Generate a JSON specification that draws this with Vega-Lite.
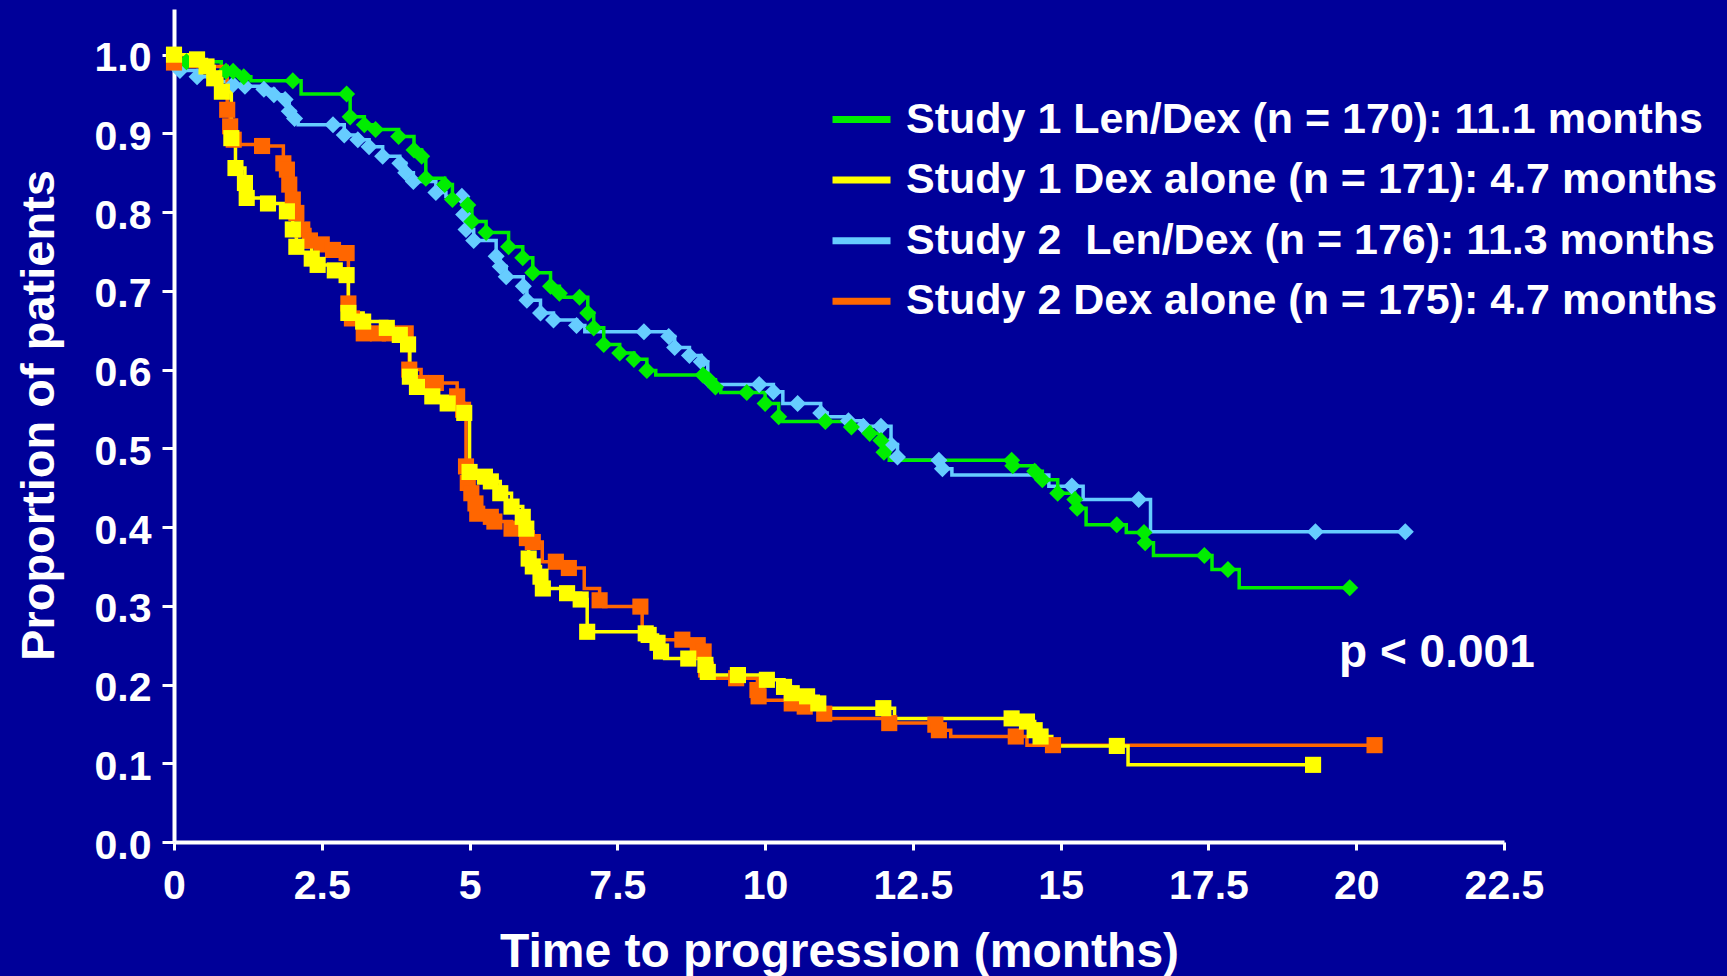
{
"$schema": "https://vega.github.io/schema/vega-lite/v6.json",
"width": 1330,
"height": 833,
"autosize": {"type": "none"},
"padding": {"left": 174, "top": 9, "right": 223, "bottom": 134},
"background": "#000099",
"config": {"view": {"stroke": null}, "font": "Liberation Sans"},
"datasets": {
"km": [
{"series":"S2 Len/Dex","t":0,"s":1.0,"m":0},
{"series":"S2 Len/Dex","t":0.05,"s":0.985,"m":0},
{"series":"S2 Len/Dex","t":0.10,"s":0.980,"m":1},
{"series":"S2 Len/Dex","t":0.39,"s":0.972,"m":1},
{"series":"S2 Len/Dex","t":0.60,"s":0.966,"m":0},
{"series":"S2 Len/Dex","t":1.00,"s":0.962,"m":1},
{"series":"S2 Len/Dex","t":1.20,"s":0.960,"m":1},
{"series":"S2 Len/Dex","t":1.52,"s":0.956,"m":1},
{"series":"S2 Len/Dex","t":1.69,"s":0.949,"m":1},
{"series":"S2 Len/Dex","t":1.88,"s":0.943,"m":1},
{"series":"S2 Len/Dex","t":1.95,"s":0.928,"m":1},
{"series":"S2 Len/Dex","t":2.04,"s":0.919,"m":1},
{"series":"S2 Len/Dex","t":2.10,"s":0.911,"m":0},
{"series":"S2 Len/Dex","t":2.69,"s":0.911,"m":1},
{"series":"S2 Len/Dex","t":2.88,"s":0.898,"m":1},
{"series":"S2 Len/Dex","t":3.11,"s":0.892,"m":1},
{"series":"S2 Len/Dex","t":3.30,"s":0.883,"m":1},
{"series":"S2 Len/Dex","t":3.53,"s":0.871,"m":1},
{"series":"S2 Len/Dex","t":3.82,"s":0.862,"m":1},
{"series":"S2 Len/Dex","t":3.92,"s":0.850,"m":1},
{"series":"S2 Len/Dex","t":4.05,"s":0.839,"m":1},
{"series":"S2 Len/Dex","t":4.43,"s":0.825,"m":1},
{"series":"S2 Len/Dex","t":4.60,"s":0.820,"m":0},
{"series":"S2 Len/Dex","t":4.87,"s":0.820,"m":1},
{"series":"S2 Len/Dex","t":4.90,"s":0.797,"m":1},
{"series":"S2 Len/Dex","t":4.94,"s":0.778,"m":1},
{"series":"S2 Len/Dex","t":5.07,"s":0.764,"m":1},
{"series":"S2 Len/Dex","t":5.45,"s":0.744,"m":1},
{"series":"S2 Len/Dex","t":5.52,"s":0.731,"m":1},
{"series":"S2 Len/Dex","t":5.62,"s":0.718,"m":1},
{"series":"S2 Len/Dex","t":5.91,"s":0.706,"m":1},
{"series":"S2 Len/Dex","t":5.97,"s":0.688,"m":1},
{"series":"S2 Len/Dex","t":6.20,"s":0.672,"m":1},
{"series":"S2 Len/Dex","t":6.42,"s":0.663,"m":1},
{"series":"S2 Len/Dex","t":6.81,"s":0.656,"m":1},
{"series":"S2 Len/Dex","t":6.95,"s":0.648,"m":0},
{"series":"S2 Len/Dex","t":7.95,"s":0.648,"m":1},
{"series":"S2 Len/Dex","t":8.37,"s":0.642,"m":1},
{"series":"S2 Len/Dex","t":8.47,"s":0.628,"m":1},
{"series":"S2 Len/Dex","t":8.72,"s":0.618,"m":1},
{"series":"S2 Len/Dex","t":8.92,"s":0.610,"m":1},
{"series":"S2 Len/Dex","t":9.03,"s":0.588,"m":1},
{"series":"S2 Len/Dex","t":9.10,"s":0.581,"m":0},
{"series":"S2 Len/Dex","t":9.90,"s":0.581,"m":1},
{"series":"S2 Len/Dex","t":10.14,"s":0.572,"m":1},
{"series":"S2 Len/Dex","t":10.30,"s":0.557,"m":0},
{"series":"S2 Len/Dex","t":10.55,"s":0.557,"m":1},
{"series":"S2 Len/Dex","t":10.94,"s":0.545,"m":1},
{"series":"S2 Len/Dex","t":11.05,"s":0.540,"m":0},
{"series":"S2 Len/Dex","t":11.41,"s":0.535,"m":1},
{"series":"S2 Len/Dex","t":11.66,"s":0.528,"m":1},
{"series":"S2 Len/Dex","t":11.96,"s":0.528,"m":1},
{"series":"S2 Len/Dex","t":12.13,"s":0.505,"m":1},
{"series":"S2 Len/Dex","t":12.24,"s":0.489,"m":1},
{"series":"S2 Len/Dex","t":12.30,"s":0.485,"m":0},
{"series":"S2 Len/Dex","t":12.94,"s":0.485,"m":1},
{"series":"S2 Len/Dex","t":13.00,"s":0.474,"m":1},
{"series":"S2 Len/Dex","t":13.16,"s":0.466,"m":0},
{"series":"S2 Len/Dex","t":14.80,"s":0.452,"m":0},
{"series":"S2 Len/Dex","t":15.19,"s":0.452,"m":1},
{"series":"S2 Len/Dex","t":15.38,"s":0.435,"m":0},
{"series":"S2 Len/Dex","t":16.32,"s":0.435,"m":1},
{"series":"S2 Len/Dex","t":16.52,"s":0.394,"m":0},
{"series":"S2 Len/Dex","t":19.31,"s":0.394,"m":1},
{"series":"S2 Len/Dex","t":20.83,"s":0.394,"m":1},
{"series":"S1 Len/Dex","t":0,"s":1.0,"m":0},
{"series":"S1 Len/Dex","t":0.10,"s":0.991,"m":0},
{"series":"S1 Len/Dex","t":0.21,"s":0.991,"m":1},
{"series":"S1 Len/Dex","t":0.80,"s":0.979,"m":0},
{"series":"S1 Len/Dex","t":0.88,"s":0.979,"m":1},
{"series":"S1 Len/Dex","t":1.00,"s":0.979,"m":1},
{"series":"S1 Len/Dex","t":1.10,"s":0.972,"m":0},
{"series":"S1 Len/Dex","t":1.18,"s":0.972,"m":1},
{"series":"S1 Len/Dex","t":1.30,"s":0.967,"m":0},
{"series":"S1 Len/Dex","t":2.01,"s":0.967,"m":1},
{"series":"S1 Len/Dex","t":2.15,"s":0.950,"m":0},
{"series":"S1 Len/Dex","t":2.92,"s":0.950,"m":1},
{"series":"S1 Len/Dex","t":2.98,"s":0.921,"m":1},
{"series":"S1 Len/Dex","t":3.22,"s":0.911,"m":1},
{"series":"S1 Len/Dex","t":3.41,"s":0.905,"m":1},
{"series":"S1 Len/Dex","t":3.80,"s":0.896,"m":1},
{"series":"S1 Len/Dex","t":4.06,"s":0.879,"m":1},
{"series":"S1 Len/Dex","t":4.19,"s":0.871,"m":1},
{"series":"S1 Len/Dex","t":4.26,"s":0.843,"m":1},
{"series":"S1 Len/Dex","t":4.58,"s":0.835,"m":1},
{"series":"S1 Len/Dex","t":4.71,"s":0.816,"m":1},
{"series":"S1 Len/Dex","t":4.97,"s":0.809,"m":1},
{"series":"S1 Len/Dex","t":5.04,"s":0.788,"m":1},
{"series":"S1 Len/Dex","t":5.28,"s":0.774,"m":1},
{"series":"S1 Len/Dex","t":5.66,"s":0.756,"m":1},
{"series":"S1 Len/Dex","t":5.90,"s":0.742,"m":1},
{"series":"S1 Len/Dex","t":6.07,"s":0.723,"m":1},
{"series":"S1 Len/Dex","t":6.37,"s":0.706,"m":1},
{"series":"S1 Len/Dex","t":6.52,"s":0.697,"m":1},
{"series":"S1 Len/Dex","t":6.60,"s":0.692,"m":0},
{"series":"S1 Len/Dex","t":6.86,"s":0.692,"m":1},
{"series":"S1 Len/Dex","t":7.00,"s":0.672,"m":1},
{"series":"S1 Len/Dex","t":7.10,"s":0.653,"m":1},
{"series":"S1 Len/Dex","t":7.27,"s":0.632,"m":1},
{"series":"S1 Len/Dex","t":7.54,"s":0.621,"m":1},
{"series":"S1 Len/Dex","t":7.78,"s":0.613,"m":1},
{"series":"S1 Len/Dex","t":8.00,"s":0.599,"m":1},
{"series":"S1 Len/Dex","t":8.15,"s":0.593,"m":0},
{"series":"S1 Len/Dex","t":8.95,"s":0.593,"m":1},
{"series":"S1 Len/Dex","t":9.05,"s":0.587,"m":1},
{"series":"S1 Len/Dex","t":9.16,"s":0.578,"m":1},
{"series":"S1 Len/Dex","t":9.25,"s":0.571,"m":0},
{"series":"S1 Len/Dex","t":9.69,"s":0.571,"m":1},
{"series":"S1 Len/Dex","t":10.00,"s":0.557,"m":1},
{"series":"S1 Len/Dex","t":10.23,"s":0.540,"m":1},
{"series":"S1 Len/Dex","t":10.30,"s":0.534,"m":0},
{"series":"S1 Len/Dex","t":11.02,"s":0.534,"m":1},
{"series":"S1 Len/Dex","t":11.46,"s":0.527,"m":1},
{"series":"S1 Len/Dex","t":11.77,"s":0.519,"m":1},
{"series":"S1 Len/Dex","t":11.96,"s":0.510,"m":1},
{"series":"S1 Len/Dex","t":12.01,"s":0.495,"m":1},
{"series":"S1 Len/Dex","t":12.10,"s":0.485,"m":0},
{"series":"S1 Len/Dex","t":14.17,"s":0.485,"m":1},
{"series":"S1 Len/Dex","t":14.19,"s":0.478,"m":1},
{"series":"S1 Len/Dex","t":14.56,"s":0.471,"m":1},
{"series":"S1 Len/Dex","t":14.69,"s":0.460,"m":1},
{"series":"S1 Len/Dex","t":14.95,"s":0.443,"m":1},
{"series":"S1 Len/Dex","t":15.24,"s":0.435,"m":1},
{"series":"S1 Len/Dex","t":15.28,"s":0.424,"m":1},
{"series":"S1 Len/Dex","t":15.43,"s":0.403,"m":0},
{"series":"S1 Len/Dex","t":15.95,"s":0.403,"m":1},
{"series":"S1 Len/Dex","t":16.11,"s":0.393,"m":0},
{"series":"S1 Len/Dex","t":16.41,"s":0.393,"m":1},
{"series":"S1 Len/Dex","t":16.43,"s":0.380,"m":1},
{"series":"S1 Len/Dex","t":16.57,"s":0.364,"m":0},
{"series":"S1 Len/Dex","t":17.43,"s":0.364,"m":1},
{"series":"S1 Len/Dex","t":17.56,"s":0.346,"m":0},
{"series":"S1 Len/Dex","t":17.83,"s":0.346,"m":1},
{"series":"S1 Len/Dex","t":18.02,"s":0.323,"m":0},
{"series":"S1 Len/Dex","t":19.89,"s":0.323,"m":1},
{"series":"S2 Dex","t":0,"s":0.99,"m":1},
{"series":"S2 Dex","t":0.05,"s":0.985,"m":0},
{"series":"S2 Dex","t":0.90,"s":0.930,"m":1},
{"series":"S2 Dex","t":0.95,"s":0.909,"m":1},
{"series":"S2 Dex","t":1.01,"s":0.892,"m":1},
{"series":"S2 Dex","t":1.06,"s":0.886,"m":0},
{"series":"S2 Dex","t":1.49,"s":0.884,"m":1},
{"series":"S2 Dex","t":1.85,"s":0.862,"m":1},
{"series":"S2 Dex","t":1.91,"s":0.854,"m":1},
{"series":"S2 Dex","t":1.95,"s":0.835,"m":1},
{"series":"S2 Dex","t":2.01,"s":0.816,"m":1},
{"series":"S2 Dex","t":2.07,"s":0.799,"m":1},
{"series":"S2 Dex","t":2.17,"s":0.778,"m":1},
{"series":"S2 Dex","t":2.30,"s":0.764,"m":1},
{"series":"S2 Dex","t":2.50,"s":0.759,"m":1},
{"series":"S2 Dex","t":2.69,"s":0.752,"m":1},
{"series":"S2 Dex","t":2.75,"s":0.748,"m":0},
{"series":"S2 Dex","t":2.92,"s":0.748,"m":1},
{"series":"S2 Dex","t":2.95,"s":0.684,"m":1},
{"series":"S2 Dex","t":3.01,"s":0.665,"m":1},
{"series":"S2 Dex","t":3.21,"s":0.646,"m":1},
{"series":"S2 Dex","t":3.45,"s":0.646,"m":1},
{"series":"S2 Dex","t":3.65,"s":0.646,"m":1},
{"series":"S2 Dex","t":3.92,"s":0.646,"m":1},
{"series":"S2 Dex","t":3.98,"s":0.600,"m":1},
{"series":"S2 Dex","t":4.18,"s":0.583,"m":1},
{"series":"S2 Dex","t":4.43,"s":0.583,"m":1},
{"series":"S2 Dex","t":4.79,"s":0.566,"m":1},
{"series":"S2 Dex","t":4.89,"s":0.549,"m":1},
{"series":"S2 Dex","t":4.94,"s":0.477,"m":1},
{"series":"S2 Dex","t":4.97,"s":0.456,"m":1},
{"series":"S2 Dex","t":5.03,"s":0.443,"m":1},
{"series":"S2 Dex","t":5.10,"s":0.430,"m":1},
{"series":"S2 Dex","t":5.13,"s":0.417,"m":1},
{"series":"S2 Dex","t":5.36,"s":0.413,"m":1},
{"series":"S2 Dex","t":5.42,"s":0.407,"m":1},
{"series":"S2 Dex","t":5.71,"s":0.398,"m":1},
{"series":"S2 Dex","t":5.97,"s":0.386,"m":1},
{"series":"S2 Dex","t":6.07,"s":0.381,"m":1},
{"series":"S2 Dex","t":6.23,"s":0.356,"m":0},
{"series":"S2 Dex","t":6.46,"s":0.356,"m":1},
{"series":"S2 Dex","t":6.68,"s":0.348,"m":1},
{"series":"S2 Dex","t":6.94,"s":0.322,"m":0},
{"series":"S2 Dex","t":7.20,"s":0.307,"m":1},
{"series":"S2 Dex","t":7.27,"s":0.299,"m":0},
{"series":"S2 Dex","t":7.89,"s":0.299,"m":1},
{"series":"S2 Dex","t":7.92,"s":0.257,"m":0},
{"series":"S2 Dex","t":8.60,"s":0.257,"m":1},
{"series":"S2 Dex","t":8.86,"s":0.250,"m":1},
{"series":"S2 Dex","t":8.96,"s":0.242,"m":1},
{"series":"S2 Dex","t":9.00,"s":0.219,"m":1},
{"series":"S2 Dex","t":9.05,"s":0.208,"m":0},
{"series":"S2 Dex","t":9.51,"s":0.208,"m":1},
{"series":"S2 Dex","t":9.87,"s":0.193,"m":1},
{"series":"S2 Dex","t":9.89,"s":0.185,"m":1},
{"series":"S2 Dex","t":9.95,"s":0.180,"m":0},
{"series":"S2 Dex","t":10.45,"s":0.176,"m":1},
{"series":"S2 Dex","t":10.67,"s":0.172,"m":1},
{"series":"S2 Dex","t":11.00,"s":0.163,"m":1},
{"series":"S2 Dex","t":11.05,"s":0.157,"m":0},
{"series":"S2 Dex","t":12.10,"s":0.151,"m":1},
{"series":"S2 Dex","t":12.88,"s":0.149,"m":1},
{"series":"S2 Dex","t":12.94,"s":0.142,"m":1},
{"series":"S2 Dex","t":13.14,"s":0.134,"m":0},
{"series":"S2 Dex","t":14.24,"s":0.134,"m":1},
{"series":"S2 Dex","t":14.43,"s":0.123,"m":0},
{"series":"S2 Dex","t":14.87,"s":0.123,"m":1},
{"series":"S2 Dex","t":20.31,"s":0.123,"m":1},
{"series":"S1 Dex","t":0,"s":1.0,"m":1},
{"series":"S1 Dex","t":0.39,"s":0.994,"m":1},
{"series":"S1 Dex","t":0.55,"s":0.985,"m":1},
{"series":"S1 Dex","t":0.68,"s":0.970,"m":1},
{"series":"S1 Dex","t":0.81,"s":0.953,"m":1},
{"series":"S1 Dex","t":0.97,"s":0.894,"m":1},
{"series":"S1 Dex","t":1.04,"s":0.856,"m":1},
{"series":"S1 Dex","t":1.20,"s":0.837,"m":1},
{"series":"S1 Dex","t":1.23,"s":0.818,"m":1},
{"series":"S1 Dex","t":1.59,"s":0.811,"m":1},
{"series":"S1 Dex","t":1.91,"s":0.801,"m":1},
{"series":"S1 Dex","t":2.01,"s":0.778,"m":1},
{"series":"S1 Dex","t":2.07,"s":0.756,"m":1},
{"series":"S1 Dex","t":2.33,"s":0.741,"m":1},
{"series":"S1 Dex","t":2.43,"s":0.733,"m":1},
{"series":"S1 Dex","t":2.72,"s":0.726,"m":1},
{"series":"S1 Dex","t":2.92,"s":0.720,"m":1},
{"series":"S1 Dex","t":2.95,"s":0.672,"m":1},
{"series":"S1 Dex","t":3.20,"s":0.661,"m":1},
{"series":"S1 Dex","t":3.60,"s":0.653,"m":1},
{"series":"S1 Dex","t":3.82,"s":0.644,"m":1},
{"series":"S1 Dex","t":3.96,"s":0.632,"m":1},
{"series":"S1 Dex","t":3.99,"s":0.591,"m":1},
{"series":"S1 Dex","t":4.11,"s":0.578,"m":1},
{"series":"S1 Dex","t":4.37,"s":0.566,"m":1},
{"series":"S1 Dex","t":4.63,"s":0.557,"m":1},
{"series":"S1 Dex","t":4.91,"s":0.545,"m":1},
{"series":"S1 Dex","t":5.00,"s":0.470,"m":1},
{"series":"S1 Dex","t":5.26,"s":0.464,"m":1},
{"series":"S1 Dex","t":5.36,"s":0.458,"m":1},
{"series":"S1 Dex","t":5.52,"s":0.443,"m":1},
{"series":"S1 Dex","t":5.71,"s":0.426,"m":1},
{"series":"S1 Dex","t":5.90,"s":0.413,"m":1},
{"series":"S1 Dex","t":5.96,"s":0.398,"m":1},
{"series":"S1 Dex","t":6.00,"s":0.360,"m":1},
{"series":"S1 Dex","t":6.07,"s":0.350,"m":1},
{"series":"S1 Dex","t":6.20,"s":0.337,"m":1},
{"series":"S1 Dex","t":6.24,"s":0.322,"m":1},
{"series":"S1 Dex","t":6.65,"s":0.316,"m":1},
{"series":"S1 Dex","t":6.88,"s":0.308,"m":1},
{"series":"S1 Dex","t":6.99,"s":0.267,"m":1},
{"series":"S1 Dex","t":7.98,"s":0.265,"m":1},
{"series":"S1 Dex","t":8.03,"s":0.263,"m":1},
{"series":"S1 Dex","t":8.18,"s":0.253,"m":1},
{"series":"S1 Dex","t":8.24,"s":0.242,"m":1},
{"series":"S1 Dex","t":8.30,"s":0.233,"m":0},
{"series":"S1 Dex","t":8.70,"s":0.233,"m":1},
{"series":"S1 Dex","t":8.99,"s":0.225,"m":1},
{"series":"S1 Dex","t":9.03,"s":0.216,"m":1},
{"series":"S1 Dex","t":9.10,"s":0.212,"m":0},
{"series":"S1 Dex","t":9.54,"s":0.212,"m":1},
{"series":"S1 Dex","t":10.03,"s":0.206,"m":1},
{"series":"S1 Dex","t":10.32,"s":0.197,"m":1},
{"series":"S1 Dex","t":10.45,"s":0.189,"m":1},
{"series":"S1 Dex","t":10.71,"s":0.185,"m":1},
{"series":"S1 Dex","t":10.90,"s":0.176,"m":1},
{"series":"S1 Dex","t":11.00,"s":0.170,"m":0},
{"series":"S1 Dex","t":12.00,"s":0.170,"m":1},
{"series":"S1 Dex","t":12.19,"s":0.157,"m":0},
{"series":"S1 Dex","t":14.17,"s":0.157,"m":1},
{"series":"S1 Dex","t":14.43,"s":0.153,"m":1},
{"series":"S1 Dex","t":14.56,"s":0.142,"m":1},
{"series":"S1 Dex","t":14.66,"s":0.134,"m":1},
{"series":"S1 Dex","t":14.85,"s":0.122,"m":0},
{"series":"S1 Dex","t":15.95,"s":0.122,"m":1},
{"series":"S1 Dex","t":16.14,"s":0.098,"m":0},
{"series":"S1 Dex","t":19.27,"s":0.098,"m":1}
]
},
"layer": [
{
"data": {"name": "km"},
"mark": {"type": "line", "interpolate": "step-after", "strokeWidth": 3.5},
"encoding": {
"x": {"field": "t", "type": "quantitative",
 "scale": {"domain": [0, 22.5], "nice": false, "zero": true},
 "axis": {"title": "Time to progression (months)", "values": [0,2.5,5,7.5,10,12.5,15,17.5,20,22.5], "format": "~g",
  "grid": false, "domainColor": "white", "domainWidth": 4, "tickColor": "white", "tickWidth": 3, "tickSize": 8,
  "labelColor": "white", "labelFont": "Liberation Sans", "labelFontWeight": "bold", "labelFontSize": 41, "labelPadding": 16,
  "labelFlush": false, "labelOverlap": false,
  "titleColor": "white", "titleFont": "Liberation Sans", "titleFontWeight": "bold", "titleFontSize": 48,
  "titleY": 124, "titleBaseline": "alphabetic"}},
"y": {"field": "s", "type": "quantitative",
 "scale": {"domain": [0, 1.058], "nice": false, "zero": true},
 "axis": {"title": "Proportion of patients", "values": [0,0.1,0.2,0.3,0.4,0.5,0.6,0.7,0.8,0.9,1.0], "format": ".1f",
  "grid": false, "domainColor": "white", "domainWidth": 4, "tickColor": "white", "tickWidth": 3, "tickSize": 12,
  "labelColor": "white", "labelFont": "Liberation Sans", "labelFontWeight": "bold", "labelFontSize": 41, "labelPadding": 11,
  "labelFlush": false, "labelOverlap": false, "labelOffset": 4,
  "titleColor": "white", "titleFont": "Liberation Sans", "titleFontWeight": "bold", "titleFontSize": 47,
  "titleX": -121, "titleY": 406, "titleBaseline": "alphabetic"}},
"color": {"field": "series", "type": "nominal",
 "scale": {"domain": ["S1 Len/Dex", "S1 Dex", "S2 Len/Dex", "S2 Dex"], "range": ["#00EE00", "#FFFF00", "#66CCFF", "#FF6600"]},
 "legend": {"orient": "none", "legendX": 655, "legendY": 78, "title": null, "padding": 0,
  "symbolType": "stroke", "symbolSize": 3364, "symbolStrokeWidth": 7,
  "labelFont": "Liberation Sans", "labelFontWeight": "bold", "labelFontSize": 43, "labelColor": "white",
  "labelOffset": 12, "labelLimit": 1200, "rowPadding": 5.6,
  "labelExpr": "datum.label == 'S1 Len/Dex' ? 'Study 1 Len/Dex (n = 170): 11.1 months' : datum.label == 'S1 Dex' ? 'Study 1 Dex alone (n = 171): 4.7 months' : datum.label == 'S2 Len/Dex' ? 'Study 2\u00a0 Len/Dex (n = 176): 11.3 months' : 'Study 2 Dex alone (n = 175): 4.7 months'"}}
}
},
{
"data": {"name": "km"},
"transform": [{"filter": "datum.m == 1"}, {"filter": {"field": "series", "oneOf": ["S1 Len/Dex", "S2 Len/Dex"]}}],
"mark": {"type": "point", "shape": "diamond", "filled": true, "opacity": 1, "size": 290, "strokeWidth": 0},
"encoding": {
"x": {"field": "t", "type": "quantitative"},
"y": {"field": "s", "type": "quantitative"},
"color": {"field": "series", "type": "nominal", "legend": null}
}
},
{
"data": {"name": "km"},
"transform": [{"filter": "datum.m == 1"}, {"filter": {"field": "series", "oneOf": ["S1 Dex", "S2 Dex"]}}],
"mark": {"type": "point", "shape": "square", "filled": true, "opacity": 1, "size": 260, "strokeWidth": 0},
"encoding": {
"x": {"field": "t", "type": "quantitative"},
"y": {"field": "s", "type": "quantitative"},
"color": {"field": "series", "type": "nominal", "legend": null}
}
},
{
"data": {"values": [{"t": 19.71, "s": 0.222, "label": "p < 0.001"}]},
"mark": {"type": "text", "align": "left", "baseline": "alphabetic", "fontSize": 46, "fontWeight": "bold", "font": "Liberation Sans", "color": "white"},
"encoding": {
"x": {"field": "t", "type": "quantitative"},
"y": {"field": "s", "type": "quantitative"},
"text": {"field": "label"}
}
}
]
}
